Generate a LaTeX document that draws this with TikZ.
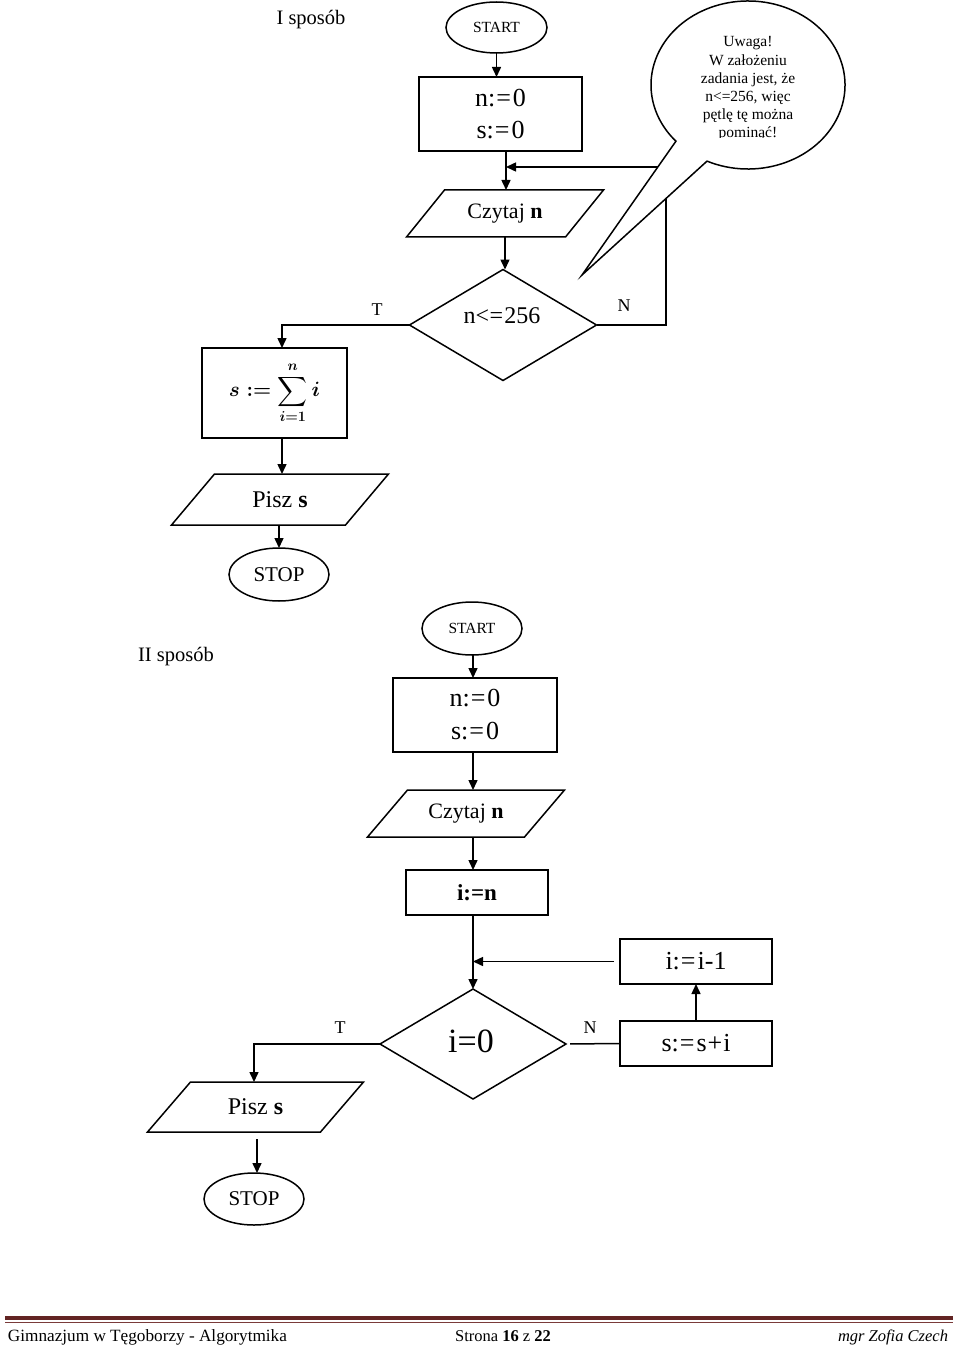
\documentclass[tikz,border=0pt]{standalone}
\usepackage{fontspec}
\setmainfont{Liberation Serif}
\usepackage{amsmath}
\usetikzlibrary{shapes.geometric,arrows.meta,calc}
\definecolor{foot}{HTML}{622423}
\definecolor{footl}{HTML}{7A3B3A}
\newcommand\mypara[6]{%
  \node[minimum width=#3pt, minimum height=#4pt, inner sep=0pt] (#1) at #2 {#6};
  \draw[ln] ($(#1.south west)+(-#5,0)$) -- ($(#1.south east)+(-#5,0)$) -- ($(#1.north east)+(#5,0)$) -- ($(#1.north west)+(#5,0)$) -- cycle;}
\newcommand\asg{:\kern1pt=\kern2pt}
\newsavebox\sigmabox
\begin{document}
\sbox\sigmabox{\fontsize{22}{26}\selectfont\boldmath$\displaystyle s \mathrel{:=} \sum_{i=1}^{n} i$}%
\begin{tikzpicture}[x=1pt,y=-1pt,
  every node/.style={inner sep=0pt, outer sep=0pt},
  ln/.style={line width=1.5pt, line join=miter},
  arr/.style={ln, -{Triangle[length=10pt,width=9pt]}},
  box/.style={draw, ln, rectangle, align=center},
  term/.style={draw, ln, ellipse},
  dec/.style={draw, ln, diamond},
  lbl/.style={font=\fontsize{18}{21}\selectfont}
]
\useasboundingbox (0,0) rectangle (960,1348);

% ---------- I sposob ----------
\node[font=\fontsize{20.5}{24}\selectfont] (h1) at (311,20) {I sposób};
\node[term, minimum width=101pt, minimum height=51pt, font=\fontsize{15.5}{18}\selectfont] (s1) at (496.5,27.5) {START};
\node[box, minimum width=163pt, minimum height=74pt, font=\fontsize{26}{32}\selectfont] (b1) at (500.5,114) {n\asg 0\\s\asg 0};
\mypara{cz1}{(505,213.5)}{159}{47}{19}{\fontsize{22}{26}\selectfont Czytaj \textbf{n}}
\node[dec, minimum width=187pt, minimum height=111pt] (d1) at (503,325) {};
\node[font=\fontsize{24}{28}\selectfont] (d1t) at (502,316) {n<\kern0.5pt=\kern1pt256};
\node[lbl] (t1) at (377,310) {T};
\node[lbl] (n1) at (624,306) {N};
\node[box, minimum width=145pt, minimum height=90pt] (sigma) at (274.5,393) {\usebox\sigmabox};
\mypara{p1}{(280,499.5)}{174}{51}{21.5}{\fontsize{24}{28}\selectfont Pisz \textbf{s}}
\node[term, minimum width=100pt, minimum height=53pt, font=\fontsize{21}{24}\selectfont] (st1) at (279,574.5) {STOP};

\coordinate (m1) at (506,167);
\coordinate (nc) at (666,324);
\coordinate (tc) at (282,324);
\draw[arr] (s1.south) -- (s1.south |- b1.north);
\draw[arr] (b1.south -| m1) -- (m1 |- cz1.north);
\draw[arr] (d1.east) -- (d1.east -| nc) -- (nc |- m1) -- (m1);
\draw[arr] (cz1.south) -- (cz1.south |- d1.north);
\draw[arr] (d1.west) -- (d1.west -| tc) -- (tc |- sigma.north);
\draw[arr] (tc |- sigma.south) -- (tc |- p1.north);
\draw[arr] (p1.south -| st1.north) -- (st1.north);

% speech bubble
\draw[ln, fill=white] (748,85) ++(245:97pt and 84pt) arc[start angle=245, end angle=582, x radius=97pt, y radius=84pt] -- (582,275) -- cycle;
\begin{scope}
\clip (640,0) rectangle (860,137.5);
\node[font=\fontsize{15.5}{18.2}\selectfont, align=center] (note) at (748,89) {Uwaga!\\W założeniu\\zadania jest, że\\n<=256, więc\\pętlę tę można\\pominąć!};
\end{scope}

% ---------- II sposob ----------
\node[font=\fontsize{20.5}{24}\selectfont] (h2) at (176,657) {II sposób};
\node[term, minimum width=100pt, minimum height=53pt, font=\fontsize{15.5}{18}\selectfont] (s2) at (472,628.5) {START};
\node[box, minimum width=164pt, minimum height=74pt, font=\fontsize{26}{33}\selectfont] (b2) at (475,715) {n\asg 0\\s\asg 0};
\mypara{cz2}{(466,813.5)}{157}{47}{20}{\fontsize{22}{26}\selectfont Czytaj \textbf{n}}
\node[box, minimum width=142pt, minimum height=45pt, font=\fontsize{23}{26}\selectfont] (in) at (477,892.5) {\textbf{i:=n}};
\node[dec, minimum width=186pt, minimum height=110pt] (d2) at (473,1044) {};
\node[font=\fontsize{34}{38}\selectfont] (d2t) at (471,1041) {i=0};
\node[lbl] (t2) at (340,1028) {T};
\node[lbl] (n2) at (590,1028) {N};
\node[box, minimum width=152pt, minimum height=45pt, font=\fontsize{26}{28}\selectfont] (ib) at (696,961.5) {i\asg i-1};
\node[box, minimum width=152pt, minimum height=45pt, font=\fontsize{26}{28}\selectfont] (sb) at (696,1043.5) {s\asg s\kern1pt+\kern1pt i};
\mypara{p2}{(255.5,1107)}{173}{50}{21.5}{\fontsize{24}{28}\selectfont Pisz \textbf{s}}
\node[term, minimum width=100pt, minimum height=52pt, font=\fontsize{21}{24}\selectfont] (st2) at (254,1199) {STOP};

\coordinate (m2) at (473,959);
\coordinate (tc2) at (254,1044);
\draw[arr] (s2.south -| m2) -- (m2 |- b2.north);
\draw[arr] (b2.south -| m2) -- (m2 |- cz2.north);
\draw[arr] (cz2.south -| m2) -- (m2 |- in.north);
\draw[arr] (in.south -| m2) -- (m2 |- d2.north);
\draw[arr, shorten <=6pt] (ib.west) -- (ib.west -| m2);
\draw[ln, shorten <=4pt] (d2.east) -- (sb.west);
\draw[arr] (sb.north) -- (ib.south);
\draw[arr] (d2.west) -- (tc2) -- (tc2 |- p2.north);
\draw[arr, shorten <=7pt] ($(p2.south)+(1.5,0)$) -- ($(st2.north)+(3,0)$);

% ---------- footer ----------
\draw[line width=4pt, foot] (5,1318) -- (953,1318);
\draw[line width=1.4pt, footl] (5,1322.5) -- (953,1322.5);
\node[anchor=base west, font=\fontsize{17.2}{19}\selectfont] (f1) at (8,1341) {Gimnazjum w Tęgoborzy - Algorytmika};
\node[anchor=base, font=\fontsize{16.5}{19}\selectfont] (f2) at (503,1341) {Strona \textbf{16} z \textbf{22}};
\node[anchor=base east, font=\fontsize{16.5}{19}\selectfont] (f3) at (948,1341) {\textit{mgr Zofia Czech}};
\end{tikzpicture}
\end{document}
